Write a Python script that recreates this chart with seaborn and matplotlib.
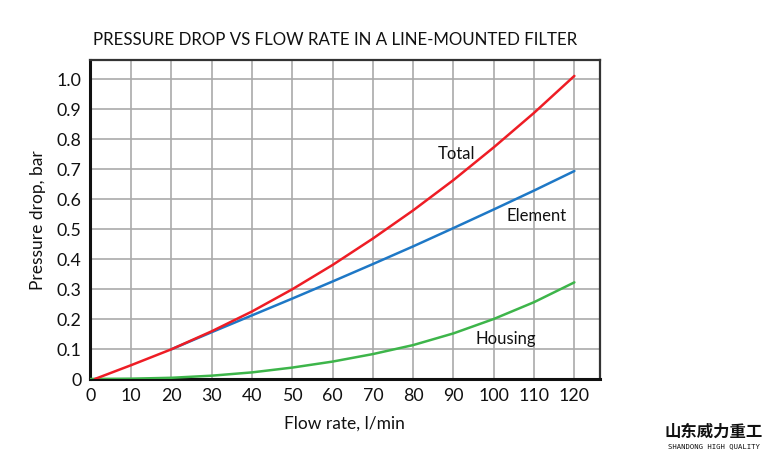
import numpy as np
import pandas as pd
import matplotlib
matplotlib.use("Agg")
import matplotlib.pyplot as plt
import seaborn as sns

# values (flow in l/min, pressure drop in bar)
total_flow = [1, 10, 20, 30, 40, 50, 60, 70, 80, 90, 100, 110, 120]
total_dp = [0.0, 0.046, 0.099, 0.159, 0.225, 0.299, 0.38, 0.468, 0.562, 0.663, 0.772, 0.887, 1.01]

element_flow = [20, 30, 40, 50, 60, 70, 80, 90, 100, 110, 120]
element_dp = [0.099, 0.156, 0.212, 0.268, 0.325, 0.383, 0.442, 0.503, 0.565, 0.628, 0.693]

housing_flow = [0, 10, 20, 30, 40, 50, 60, 70, 80, 90, 100, 110, 120]
housing_dp = [0.0, 0.001, 0.004, 0.011, 0.022, 0.038, 0.058, 0.083, 0.113, 0.152, 0.2, 0.256, 0.322]

x_ticks = list(range(0, 130, 10))
y_ticks = [0, 0.1, 0.2, 0.3, 0.4, 0.5, 0.6, 0.7, 0.8, 0.9, 1.0]
y_tick_labels = ["0", "0.1", "0.2", "0.3", "0.4", "0.5", "0.6", "0.7", "0.8", "0.9", "1.0"]

sns.set_style("white")
plt.rcParams["font.family"] = ["Lato", "DejaVu Sans"]

fig = plt.figure(figsize=(7.7, 4.56), dpi=100)
ax = fig.add_axes([0.1169, 0.1667, 0.662, 0.6995])

housing = pd.DataFrame({"flow": housing_flow, "dp": housing_dp})
element = pd.DataFrame({"flow": element_flow, "dp": element_dp})
total = pd.DataFrame({"flow": total_flow, "dp": total_dp})

sns.lineplot(data=housing, x="flow", y="dp", color="#3db54a", lw=1.8, ax=ax, zorder=3)
sns.lineplot(data=element, x="flow", y="dp", color="#1e78c6", lw=1.8, ax=ax, zorder=3)
sns.lineplot(data=total, x="flow", y="dp", color="#ee1d25", lw=1.8, ax=ax, zorder=4)

ax.set_xlim(-0.2, 126.3)
ax.set_ylim(0, 1.063)
ax.set_xticks(x_ticks)
ax.set_yticks(y_ticks)
ax.set_yticklabels(y_tick_labels)
ax.tick_params(axis="both", length=0, labelsize=12.8, pad=6, colors="#111111")
ax.grid(True, color="#aaaaaa", lw=1.2)
ax.set_axisbelow(True)
for side in ["left", "bottom"]:
    ax.spines[side].set_linewidth(2.2)
    ax.spines[side].set_color("#111111")
for side in ["top", "right"]:
    ax.spines[side].set_linewidth(1.6)
    ax.spines[side].set_color("#333333")

ax.set_xlabel("Flow rate, l/min", fontsize=12.5, labelpad=8, color="#111111")
ax.set_ylabel("Pressure drop, bar", fontsize=12.5, labelpad=8, color="#111111")

ax.text(90.8, 0.752, "Total", fontsize=12, ha="center", va="center", color="#111111")
ax.text(110.7, 0.545, "Element", fontsize=12, ha="center", va="center", color="#111111")
ax.text(103, 0.135, "Housing", fontsize=12, ha="center", va="center", color="#111111")

fig.text(0.1208, 0.912, "PRESSURE DROP VS FLOW RATE IN A LINE-MOUNTED FILTER",
         fontsize=12.15, ha="left", va="center", color="#111111")

# watermark in the corner
fig.text(0.927, 0.053, "山东威力重工", fontsize=11.8, fontweight="heavy",
         family=["Noto Sans CJK SC", "DejaVu Sans"], ha="center", va="center", color="#111111")
fig.text(0.927, 0.022, "SHANDONG HIGH QUALITY", fontsize=5.2, family="DejaVu Sans Mono",
         ha="center", va="center", color="#111111")

fig.savefig("out.png", dpi=100)
